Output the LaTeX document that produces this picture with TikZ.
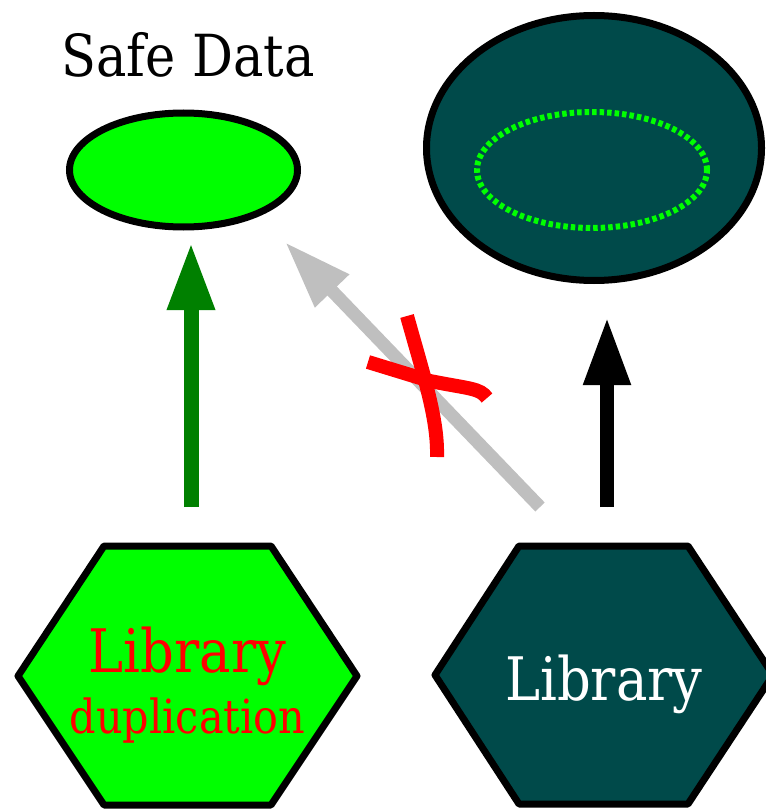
\documentclass[tikz,border=0pt]{standalone}
\usepackage{fontspec}
\setmainfont{DejaVu Serif}
\newfontfamily\lblfont[FakeStretch=0.88]{DejaVu Serif}
\usetikzlibrary{arrows.meta,shapes.geometric}
\definecolor{libgreen}{RGB}{0,255,0}
\definecolor{deepteal}{RGB}{0,74,74}
\definecolor{arrowgreen}{RGB}{0,128,0}
\definecolor{blocked}{RGB}{191,191,191}
\tikzset{
  bigarrow/.style={line width=14pt,-{Triangle[length=68pt,width=44pt]}},
  hexborder/.style={draw=black,line width=7pt,line join=round},
  outline/.style={draw=black,line width=7pt,ellipse,inner sep=0pt},
  crossmark/.style={draw=red,line width=14pt}
}
\begin{document}
\begin{tikzpicture}[x=1pt,y=-1pt]
\useasboundingbox (0,0) rectangle (765,810);

% top row: the data stores
\node[anchor=base,font=\lblfont\fontsize{58}{70}\selectfont] (title) at (188,77) {Safe Data};
\node[outline,fill=libgreen,minimum width=228pt,minimum height=114pt] (safe) at (183.5,170) {};
\node[outline,fill=deepteal,minimum width=335pt,minimum height=265pt] (store) at (594,148) {};
\node[ellipse,draw=libgreen,line width=6pt,dash pattern=on 4.5pt off 3pt,
      minimum width=230pt,minimum height=116pt,inner sep=0pt] (inner) at (592,170) {};

% bottom row: the two libraries
\path[hexborder,fill=libgreen] (18,676) -- (104,546) -- (271,546) -- (357,676)
  -- (271,805) -- (104,805) -- cycle;
\path[hexborder,fill=deepteal] (435,675) -- (519,546) -- (688,546) -- (773,675)
  -- (688,804) -- (519,804) -- cycle;
\node[anchor=base,text=red,font=\lblfont\fontsize{60}{70}\selectfont] (dup) at (187.5,672) {Library};
\node[anchor=base,text=red,font=\lblfont\fontsize{47}{60}\selectfont] (dupsub) at (187.5,733) {duplication};
\node[anchor=base,text=white,font=\lblfont\fontsize{60}{70}\selectfont] (lib) at (604,700) {Library};

% arrow end points
\coordinate (gs) at (191,507);
\coordinate (ge) at (191,242);
\coordinate (ks) at (607,507);
\coordinate (ke) at (607,317);
\coordinate (xs) at (540,507);
\coordinate (xe) at (285,242);

\draw[bigarrow,draw=arrowgreen,fill=arrowgreen,line width=15pt] (gs) -- (ge);
\draw[bigarrow,draw=black,fill=black] (ks) -- (ke);
\draw[bigarrow,draw=blocked,fill=blocked,line width=13pt] (xs) -- (xe);

% the red cross over the blocked path
\draw[crossmark] (407,316) .. controls (425,380) and (438,420) .. (437,457);
\draw[crossmark] (368,362) -- (430,381) .. controls (470,389) and (480,388) .. (487,398);
\end{tikzpicture}
\end{document}
